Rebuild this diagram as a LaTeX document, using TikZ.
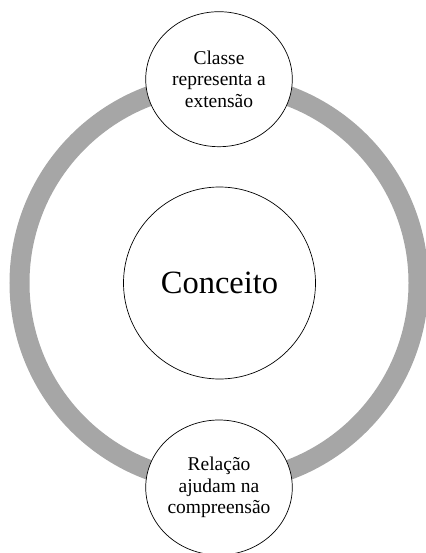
\documentclass[tikz,border=0pt]{standalone}
\usepackage{fontspec}
\setmainfont{Liberation Serif}
\usetikzlibrary{shapes.geometric}
\definecolor{ringgray}{RGB}{166,166,166}
\tikzset{
  oval/.style={draw=black, line width=0.7pt, fill=white, ellipse, inner sep=0pt,
    minimum width=146.6pt, minimum height=135pt, align=center,
    font=\fontsize{19.5}{21.5}\selectfont},
  core/.style={draw=black, line width=0.7pt, fill=white, circle, inner sep=0pt,
    minimum size=192pt, font=\fontsize{32.5}{38}\selectfont}
}
\begin{document}
\begin{tikzpicture}[x=1pt,y=-1pt]
\useasboundingbox (0,0) rectangle (425,553);
\draw[ringgray, line width=20pt] (219,283) circle[radius=199.5];
\node[core] (c) at (219.5,283) {Conceito};
\node[oval] (top) at (219,79.2) {Classe\\representa a\\extensão};
\node[oval] (bot) at (219,487.5) {Relação\\ajudam na\\compreensão};
\end{tikzpicture}
\end{document}
